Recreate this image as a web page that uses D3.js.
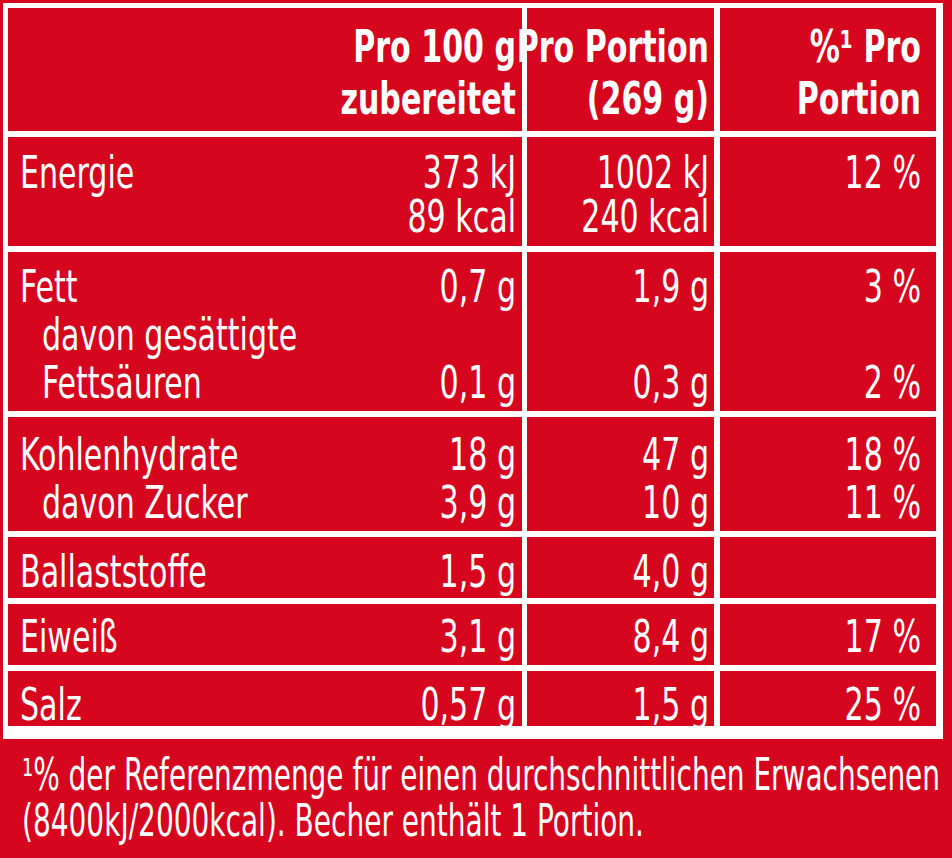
<!DOCTYPE html>
<html><head><meta charset="utf-8">
<script src="https://cdn.jsdelivr.net/npm/d3@7"></script>
<style>body{margin:0;background:#d5061e}text{font-family:"Liberation Sans Narrow","DejaVu Sans Condensed",sans-serif;fill:#fff}</style>
</head><body>
<script>
(function () {
    "use strict";

    var headers = [["Pro 100 g", "zubereitet"], ["Pro Portion", "(269 g)"], ["%¹ Pro", "Portion"]];
    // each block: rows of [label, per100, perPortion, percent, indent]
    var blocks = [
        [["Energie", "373 kJ", "1002 kJ", "12 %", 0], ["", "89 kcal", "240 kcal", "", 0]],
        [["Fett", "0,7 g", "1,9 g", "3 %", 0], ["davon gesättigte", "", "", "", 1], ["Fettsäuren", "0,1 g", "0,3 g", "2 %", 1]],
        [["Kohlenhydrate", "18 g", "47 g", "18 %", 0], ["davon Zucker", "3,9 g", "10 g", "11 %", 1]],
        [["Ballaststoffe", "1,5 g", "4,0 g", "", 0]],
        [["Eiweiß", "3,1 g", "8,4 g", "17 %", 0]],
        [["Salz", "0,57 g", "1,5 g", "25 %", 0]]
    ];
    var footnote = ["¹% der Referenzmenge für einen durchschnittlichen Erwachsenen",
                    "(8400kJ/2000kcal). Becher enthält 1 Portion."];
    var footWidths = [918, 622];

    var blockTops = [8, 137, 252, 417, 537, 604, 671, 732];
    var colEdges = [8, 522, 527, 714, 720, 936];
    var colRight = [516, 709, 921];

    var svg = d3.select("body").append("svg").attr("width", 952).attr("height", 858);
    svg.append("rect").attr("width", 952).attr("height", 858).attr("fill", "#d5061e");
    svg.append("rect").attr("x", 3).attr("y", 3).attr("width", 940).attr("height", 736).attr("fill", "#fff");

    var cols = [[colEdges[0], colEdges[1]], [colEdges[2], colEdges[3]], [colEdges[4], colEdges[5]]];
    d3.range(7).forEach(function (b) {
        cols.forEach(function (c) {
            svg.append("rect").attr("x", c[0]).attr("y", blockTops[b])
                .attr("width", c[1] - c[0]).attr("height", blockTops[b + 1] - blockTops[b] - 6)
                .attr("fill", "#d5061e");
        });
    });

    var fs = 44, sx = 0.76;
    function txt(x, y, s, anchor, bold) {
        return svg.append("text").attr("transform", "translate(" + x + "," + y + ") scale(" + sx + ",1)")
            .attr("text-anchor", anchor)
            .attr("font-size", fs).attr("font-weight", bold ? "bold" : "normal").text(s);
    }

    headers.forEach(function (h, i) {
        txt(colRight[i], 62, h[0], "end", true);
        txt(colRight[i], 114, h[1], "end", true);
    });

    var firstBase = [188, 302, 470, 587, 652, 720];
    var lineH = [44, 48, 48, 0, 0, 0];
    blocks.forEach(function (rows, b) {
        rows.forEach(function (r, k) {
            var y = firstBase[b] + k * lineH[b];
            txt(r[4] ? 42 : 20, y, r[0], "start");
            [r[1], r[2], r[3]].forEach(function (v, i) { if (v) txt(colRight[i], y, v, "end"); });
        });
    });

    footnote.forEach(function (s, i) {
        svg.append("text").attr("x", 22).attr("y", 790 + i * 46).attr("font-size", fs)
            .attr("textLength", footWidths[i]).attr("lengthAdjust", "spacingAndGlyphs").text(s);
    });
})();
</script>
</body></html>
